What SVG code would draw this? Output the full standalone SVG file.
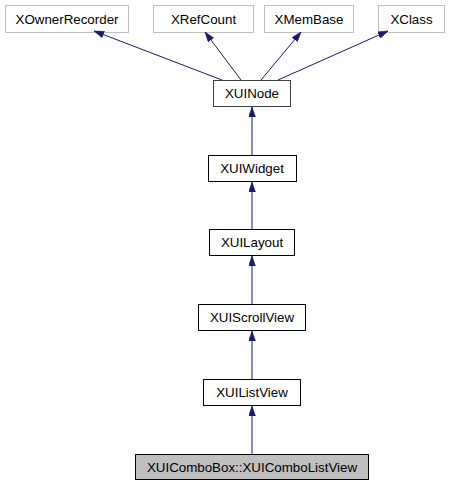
<svg xmlns="http://www.w3.org/2000/svg" width="450" height="485" viewBox="0 0 450 485">
<defs>
<style>
.t{font-family:"Liberation Sans",Arial,Helvetica,sans-serif;font-size:13.33px;fill:#000;text-anchor:middle}
.g rect{fill:#fff;stroke:#bfbfbf;stroke-width:1}
.b rect{fill:#fff;stroke:#000;stroke-width:1}
.n rect{fill:#fff;stroke:#404040;stroke-width:1}
.c rect{fill:#bfbfbf;stroke:#000;stroke-width:1}
.e line{stroke:#191970;stroke-width:1}
</style>
<marker id="ah" viewBox="0 0 10 7" refX="10" refY="3.5" markerWidth="10" markerHeight="7" markerUnits="userSpaceOnUse" orient="auto">
<path d="M0,0 L10,3.5 L0,7 z" fill="#191970" stroke="#191970" stroke-width="0.5"/>
</marker>
</defs>
<rect width="450" height="485" fill="#fff"/>
<g id="XOwnerRecorder" class="g"><rect x="5.5" y="5.5" width="123" height="27"/><text class="t" x="67" y="23.5">XOwnerRecorder</text></g>
<g id="XRefCount" class="g"><rect x="153.5" y="5.5" width="100" height="27"/><text class="t" x="203.5" y="23.5">XRefCount</text></g>
<g id="XMemBase" class="g"><rect x="264.5" y="5.5" width="89" height="27"/><text class="t" x="309" y="23.5">XMemBase</text></g>
<g id="XClass" class="g"><rect x="378.5" y="5.5" width="66" height="27"/><text class="t" x="411.5" y="23.5">XClass</text></g>
<g id="XUINode" class="n"><rect x="213.5" y="80.5" width="77" height="26"/><text class="t" x="252" y="98">XUINode</text></g>
<g id="XUIWidget" class="b"><rect x="208.5" y="155.5" width="88" height="26"/><text class="t" x="252" y="173">XUIWidget</text></g>
<g id="XUILayout" class="b"><rect x="209.5" y="229.5" width="85" height="26"/><text class="t" x="252" y="247">XUILayout</text></g>
<g id="XUIScrollView" class="b"><rect x="198.5" y="304.5" width="107" height="26"/><text class="t" x="252" y="322">XUIScrollView</text></g>
<g id="XUIListView" class="b"><rect x="203.5" y="379.5" width="97" height="26"/><text class="t" x="252" y="397">XUIListView</text></g>
<g id="XUIComboListView" class="c"><rect x="135.5" y="454.5" width="233" height="25"/><text class="t" x="252" y="471.5">XUIComboBox::XUIComboListView</text></g>
<g id="edges" class="e">
<line x1="222" y1="80" x2="94" y2="31" marker-end="url(#ah)"/>
<line x1="241" y1="80" x2="205" y2="32" marker-end="url(#ah)"/>
<line x1="261" y1="80" x2="301" y2="32" marker-end="url(#ah)"/>
<line x1="278" y1="80" x2="388" y2="31" marker-end="url(#ah)"/>
<line x1="252" y1="155" x2="252" y2="107" marker-end="url(#ah)"/>
<line x1="252" y1="229" x2="252" y2="182" marker-end="url(#ah)"/>
<line x1="252" y1="304" x2="252" y2="256" marker-end="url(#ah)"/>
<line x1="252" y1="379" x2="252" y2="331" marker-end="url(#ah)"/>
<line x1="252" y1="454" x2="252" y2="406" marker-end="url(#ah)"/>
</g>
</svg>
